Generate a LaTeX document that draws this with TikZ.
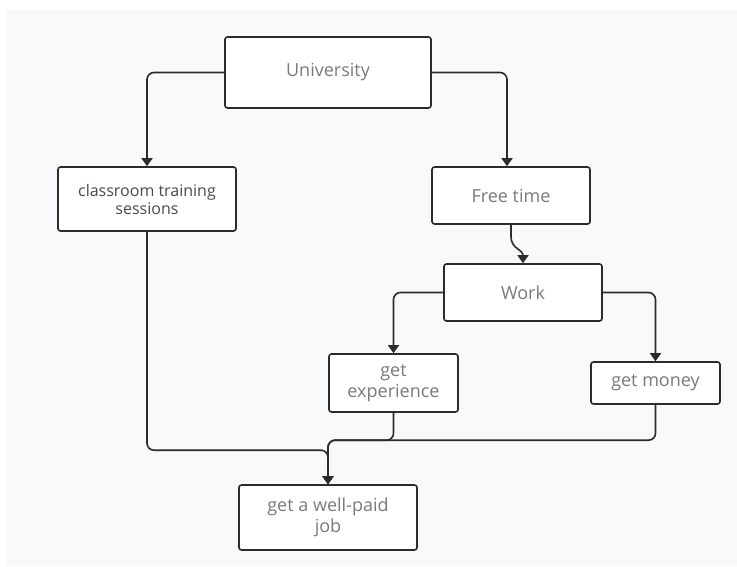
\documentclass[tikz,border=0pt]{standalone}
\usepackage{fontspec}
\setmainfont{Open Sans}
\usetikzlibrary{arrows.meta,calc}
\definecolor{bg}{HTML}{F8F9FA}
\definecolor{txt}{HTML}{7A7A7A}
\definecolor{txtdark}{HTML}{4A4A4A}
\definecolor{ln}{HTML}{2B2B2B}
\tikzset{
  box/.style={draw=ln, line width=1.6pt, rounded corners=2.5pt, fill=white, text=txt,
    align=center, inner sep=0pt, font=\fontsize{18}{21}\selectfont},
  conn/.style={draw=ln, line width=1.6pt, rounded corners=7pt,
    -{Triangle[width=11pt,length=8pt]}},
  wavy/.style={draw=ln, line width=1.6pt, -{Triangle[width=11pt,length=8pt]}}
}
\begin{document}
\begin{tikzpicture}[x=1pt,y=-1pt]
\fill[white] (0,0) rectangle (737,566);
\fill[bg] (6,10) rectangle (737,566);
\useasboundingbox (0,0) rectangle (737,566);

\node[box, minimum width=206pt, minimum height=71pt] (uni) at (328,72.5) {University};
\node[box, minimum width=178pt, minimum height=64pt, text=txtdark,
  font=\fontsize{16}{18}\selectfont] (cls) at (147,199) {classroom training\\sessions};
\node[box, minimum width=158pt, minimum height=57pt] (ft) at (511,195.5) {Free time};
\node[box, minimum width=158pt, minimum height=57pt] (wk) at (523,292.5) {Work};
\node[box, minimum width=129pt, minimum height=58pt] (exp) at (393.5,383) {get\\experience};
\node[box, minimum width=129pt, minimum height=42pt] (mon) at (655.5,383) {get money};
\node[box, minimum width=178pt, minimum height=65pt] (job) at (328,517.5) {get a well-paid\\job};

\draw[conn] (uni.west) -| (cls.north);
\draw[conn] (uni.east) -| ($(ft.north)+(-4,0)$);
\draw[wavy] (ft.south) -- ++(0,12) .. controls +(0,12) and +(0,-14) .. (wk.north);
\draw[conn] (wk.west) -| (exp.north);
\draw[conn] (wk.east) -| (mon.north);
\draw[conn] (cls.south) |- ($(job.north)+(0,-34)$) -- (job.north);
\draw[conn] (exp.south) |- ($(job.north)+(0,-44)$) -- (job.north);
\draw[conn] (mon.south) |- ($(job.north)+(0,-44)$) -- (job.north);
\end{tikzpicture}
\end{document}
